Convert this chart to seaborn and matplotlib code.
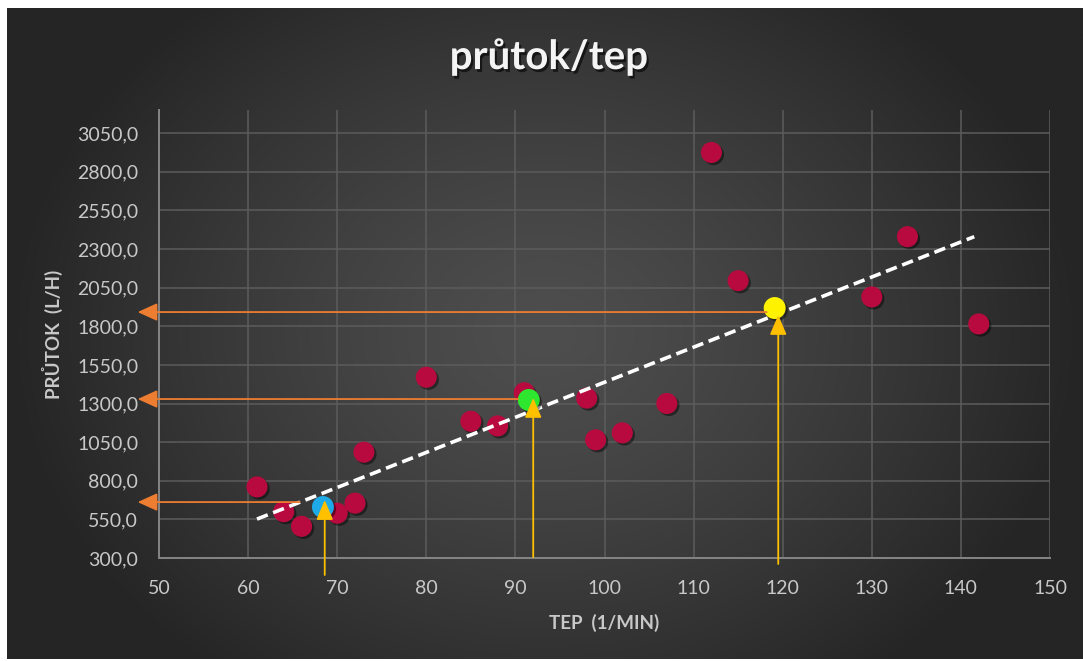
import numpy as np
import pandas as pd
import matplotlib
matplotlib.use("Agg")
import matplotlib.pyplot as plt
import matplotlib.patheffects as pe
from matplotlib.ticker import FuncFormatter
import seaborn as sns

# measured samples: heart rate vs. flow
tep = [61, 64, 66, 70, 72, 73, 80, 85, 88, 91, 98, 99, 102, 107, 112, 115, 130, 134, 142]
prutok = [760, 600, 505, 590, 655, 985, 1470, 1185, 1155, 1370, 1335, 1065, 1110, 1300,
          2925, 2095, 1990, 2380, 1815]

# highlighted readings
hl_tep = [68.4, 91.5, 119.1]
hl_prutok = [630, 1323, 1918]
hl_colors = ["#1EAAE6", "#2EE62E", "#FFF200"]

# linear trend (end points)
trend_tep = [61, 141.5]
trend_prutok = [552, 2380]

# reading arrows: vertical (from below the axis up to the point)
v_tep = [68.6, 92.0, 119.5]
v_from = [190, 306, 261]
v_to = [675, 1336, 1873]
# horizontal (from the trend point left to the y axis)
h_from_tep = [65.8, 90.3, 118.2]
h_prutok = [662, 1329, 1892]
h_to_tep = 47.6

x_ticks = [50, 60, 70, 80, 90, 100, 110, 120, 130, 140, 150]
y_ticks = [300, 550, 800, 1050, 1300, 1550, 1800, 2050, 2300, 2550, 2800, 3050]

sns.set_theme(style="dark")
plt.rcParams["font.family"] = ["Lato", "DejaVu Sans"]

W, H = 1083, 661
fig = plt.figure(figsize=(W / 100, H / 100), dpi=100, facecolor="white")

# radial gradient backdrop
bg = fig.add_axes([7 / W, 2 / H, 1 - 7 / W, 1 - 10 / H], zorder=0)
gx = np.linspace(-1, 1, 400)
gy = np.linspace(-1, 1, 260)
GX, GY = np.meshgrid(gx, gy)
r = np.clip(np.sqrt(GX ** 2 + (GY * 0.75) ** 2), 0, 1)
c_in, c_out = 0x4e / 255, 0x25 / 255
shade = c_in + (c_out - c_in) * r ** 1.3
img = np.dstack([shade, shade, shade])
bg.imshow(img, aspect="auto", extent=[0, 1, 0, 1], interpolation="bilinear")
bg.set_axis_off()

ax = fig.add_axes([159 / W, 1 - 558 / H, (1050 - 159) / W, (558 - 110) / H], zorder=1)
ax.set_facecolor("none")

label_col = "#c8c8c8"
grid_col = "#5c5c5c"

ax.set_xlim(50, 150)
ax.set_ylim(300, 3200)
ax.set_xticks(x_ticks)
ax.set_yticks(y_ticks)
ax.yaxis.set_major_formatter(FuncFormatter(lambda v, p: f"{v:.1f}".replace(".", ",")))
ax.tick_params(axis="both", length=0, labelsize=14, colors=label_col)
ax.tick_params(axis="y", pad=15)
ax.tick_params(axis="x", pad=16)
ax.grid(True, color=grid_col, lw=1.1)
ax.set_axisbelow(True)
for s in ["top", "right"]:
    ax.spines[s].set_visible(False)
for s in ["left", "bottom"]:
    ax.spines[s].set_color("#858585")
    ax.spines[s].set_linewidth(1.4)

shadow = [pe.SimplePatchShadow(offset=(1.5, -1.5), shadow_rgbFace="black", alpha=0.45), pe.Normal()]

df = pd.DataFrame({"tep": tep, "prutok": prutok})
sns.scatterplot(data=df, x="tep", y="prutok", ax=ax, s=230, color="#B80A3E",
                edgecolor="none", zorder=4, path_effects=shadow)

sns.lineplot(x=trend_tep, y=trend_prutok, ax=ax, color="white", lw=2.6, zorder=5)
ax.lines[-1].set_dashes([3.2, 1.6])
ax.lines[-1].set_dash_capstyle("butt")

hl = pd.DataFrame({"tep": hl_tep, "prutok": hl_prutok, "c": hl_colors})
for _, row in hl.iterrows():
    sns.scatterplot(x=[row.tep], y=[row.prutok], ax=ax, s=250, color=row.c,
                    edgecolor="none", zorder=6, path_effects=shadow)

for x0, y0, y1 in zip(v_tep, v_from, v_to):
    ax.annotate("", xy=(x0, y1), xytext=(x0, y0),
                arrowprops=dict(arrowstyle="-|>,head_length=0.75,head_width=0.32",
                                mutation_scale=16, color="#FFC000", lw=1.3,
                                shrinkA=0, shrinkB=0),
                annotation_clip=False, zorder=7)

for x0, y0 in zip(h_from_tep, h_prutok):
    ax.annotate("", xy=(h_to_tep, y0), xytext=(x0, y0),
                arrowprops=dict(arrowstyle="-|>,head_length=0.75,head_width=0.34",
                                mutation_scale=16, color="#ED7D31", lw=1.3,
                                shrinkA=0, shrinkB=0),
                annotation_clip=False, zorder=7)

ax.set_xlabel("TEP  (1/MIN)", fontsize=13.5, fontweight="bold", color=label_col, labelpad=12)
ax.set_ylabel("PRŮTOK  (L/H)", fontsize=13.5, fontweight="bold", color=label_col, labelpad=10)

fig.text(549 / W, 1 - 57 / H, "průtok/tep", ha="center", va="center", fontsize=29,
         fontweight="bold", color="#f4f4f4",
         path_effects=[pe.SimplePatchShadow(offset=(1.5, -2), shadow_rgbFace="black", alpha=0.6),
                       pe.Normal()])

fig.savefig("out.png", dpi=100, facecolor="white")
